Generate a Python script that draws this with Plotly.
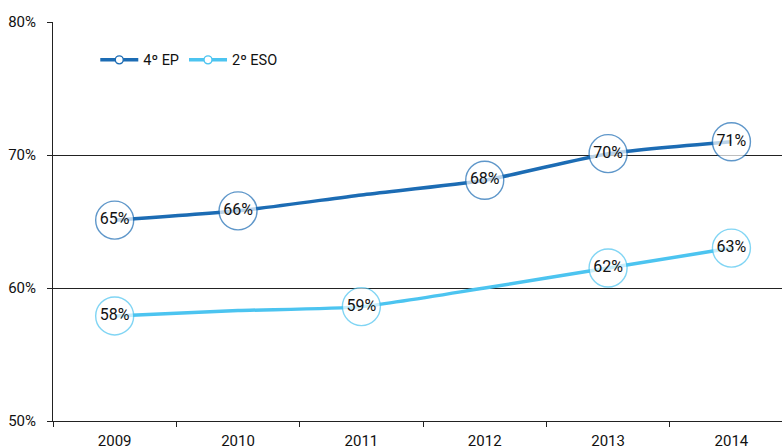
import plotly.graph_objects as go

years = ["2009", "2010", "2011", "2012", "2013", "2014"]
ep_values = [65.1, 65.8, 67.0, 68.1, 70.1, 71.0]
ep_labels = ["65%", "66%", "", "68%", "70%", "71%"]
eso_values = [57.9, 58.3, 58.6, 60.0, 61.5, 63.0]
eso_labels = ["58%", "", "59%", "", "62%", "63%"]
y_ticks = [50, 60, 70, 80]
y_tick_labels = ["50%", "60%", "70%", "80%"]

dark = "#1c6cb4"
light = "#4cc4f0"

def sizes(labels):
    return [38 if l else 0 for l in labels]

fig = go.Figure()
for name, vals, labels, col in [("4º EP", ep_values, ep_labels, dark),
                                ("2º ESO", eso_values, eso_labels, light)]:
    fig.add_trace(go.Scatter(
        x=years, y=vals, name=name, mode="lines+markers+text",
        line=dict(color=col, width=3.5, shape="spline", smoothing=0.6),
        marker=dict(size=sizes(labels), color="white", line=dict(color=col, width=1.4)),
        text=labels, textposition="middle center",
        textfont=dict(family="Roboto", size=16, color="#111111"),
        showlegend=False,
    ))
    fig.add_trace(go.Scatter(
        x=[None], y=[None], name=name, mode="lines+markers",
        line=dict(color=col, width=3.5),
        marker=dict(size=8, color="white", line=dict(color=col, width=1.4)),
        showlegend=True,
    ))

fig.update_layout(
    width=782, height=447,
    margin=dict(l=53, r=0, t=22, b=26),
    plot_bgcolor="white", paper_bgcolor="white",
    font=dict(family="Roboto", size=15, color="#111111"),
    legend=dict(orientation="h", x=0.058, y=0.905, xanchor="left", yanchor="middle",
                font=dict(size=14.5), itemwidth=38, bgcolor="rgba(0,0,0,0)"),
)
fig.update_xaxes(
    type="category", range=[-0.5, 5.41], showline=True, linecolor="#222222", linewidth=1,
    ticks="outside", tickson="boundaries", ticklen=5, tickcolor="#222222",
    showgrid=False, tickfont=dict(size=15), automargin=False, ticklabelstandoff=6,
)
fig.update_yaxes(
    range=[50, 80], tickvals=y_ticks, ticktext=y_tick_labels,
    showline=True, linecolor="#222222", linewidth=1, ticks="outside", ticklen=5,
    tickcolor="#222222", showgrid=True, gridcolor="#222222", gridwidth=1,
    zeroline=False, tickfont=dict(size=15), automargin=False, ticklabelstandoff=8,
)
fig.write_html("out.html", config={"displayModeBar": False},
               post_script="document.body.style.margin='0';document.body.style.overflow='hidden';")
